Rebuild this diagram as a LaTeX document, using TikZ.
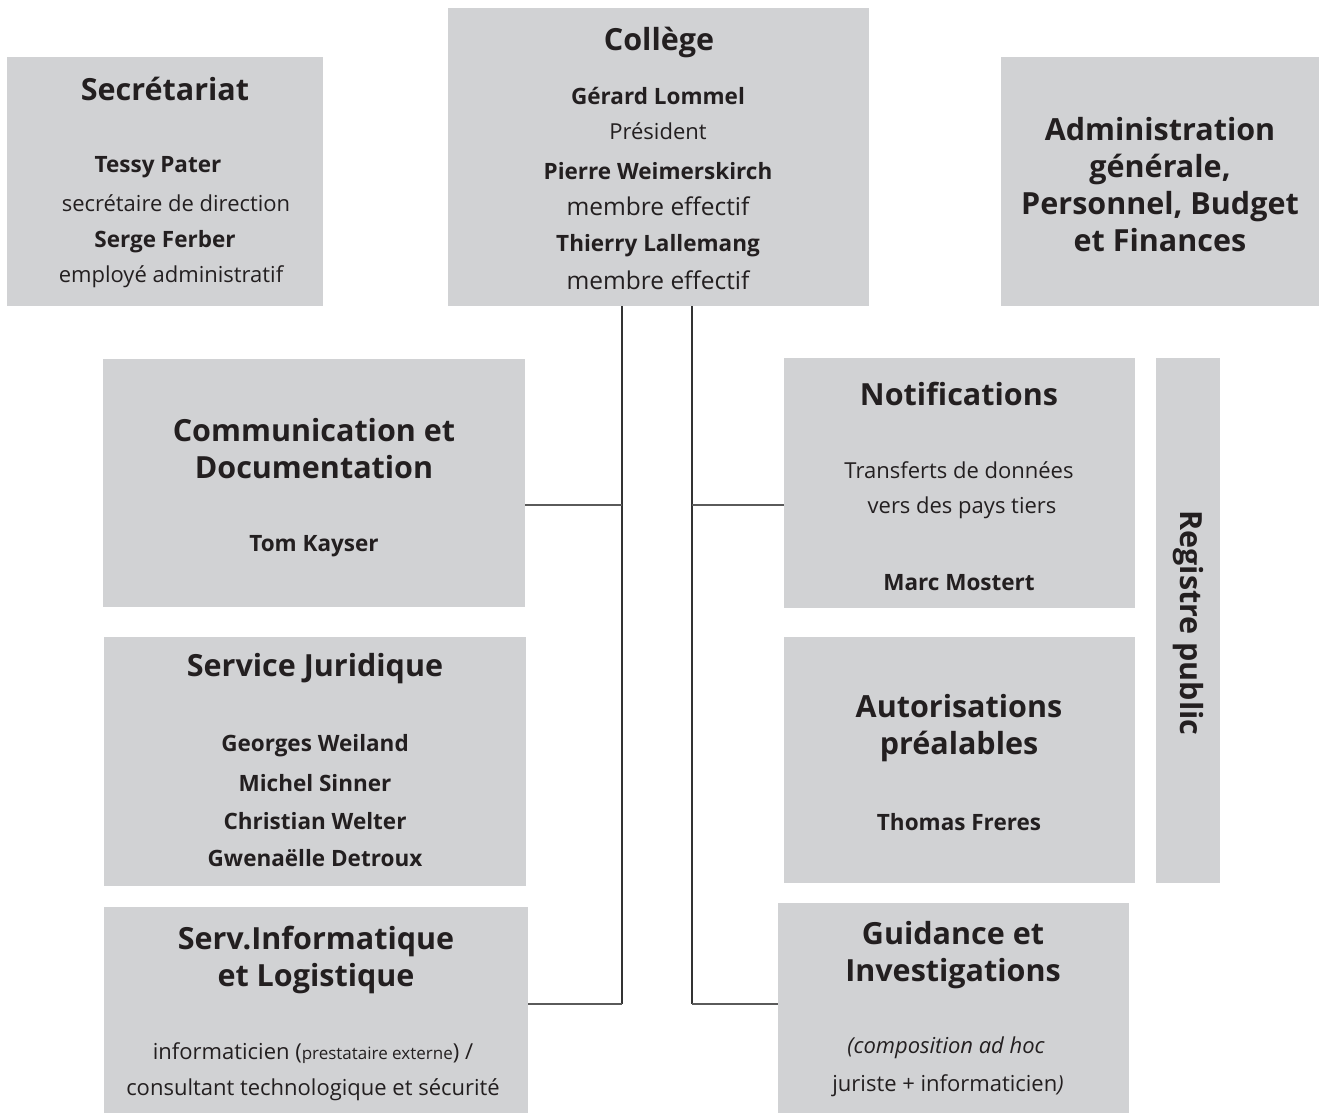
\documentclass[tikz,border=0pt]{standalone}
\usepackage{fontspec}
\setmainfont{Open Sans}
\definecolor{boxgray}{HTML}{D1D2D4}
\definecolor{ink}{HTML}{231F20}
\definecolor{linedark}{HTML}{333333}
\definecolor{linelight}{HTML}{5A5A5A}
\newcommand{\ttl}{\fontsize{30.5bp}{37bp}\selectfont\bfseries}
\newcommand{\nme}{\fontsize{22.5bp}{26bp}\selectfont\bfseries}
\newcommand{\rle}{\fontsize{22bp}{26bp}\selectfont}
\newcommand{\rlb}{\fontsize{24.5bp}{28bp}\selectfont}
\newcommand{\rls}{\fontsize{17bp}{20bp}\selectfont}
\begin{document}
\begin{tikzpicture}[x=1bp,y=-1bp,
  box/.style={fill=boxgray,draw=none,inner sep=0pt,outer sep=0pt,rectangle},
  txt/.style={text=ink,inner sep=0pt,anchor=center,align=center},
  ttlnode/.style={txt,font=\ttl},
  vline/.style={draw=linedark,line width=2bp},
  hline/.style={draw=linelight,line width=2bp}]
\useasboundingbox (0,0) rectangle (1319,1113);
% boxes
\node[box,minimum width=316bp,minimum height=249bp] (sec) at (165,181.5) {};
\node[box,minimum width=421bp,minimum height=298bp] (col) at (658.5,157) {};
\node[box,minimum width=318bp,minimum height=249bp] (adm) at (1160,181.5) {};
\node[box,minimum width=422bp,minimum height=248bp] (com) at (314,483) {};
\node[box,minimum width=422bp,minimum height=249bp] (jur) at (315,761.5) {};
\node[box,minimum width=424bp,minimum height=206bp] (inf) at (316,1010) {};
\node[box,minimum width=351bp,minimum height=250bp] (not) at (959.5,483) {};
\node[box,minimum width=351bp,minimum height=246bp] (aut) at (959.5,760) {};
\node[box,minimum width=351bp,minimum height=210bp] (gui) at (953.5,1008) {};
\node[box,minimum width=64bp,minimum height=525bp] (reg) at (1188,620.5) {};
% texts: Secretariat
\node[ttlnode] (t1) at (165,89) {Secrétariat};
\node[txt] (t2) at (158,167) {\nme Tessy Pater};
\node[txt] (t3) at (176,203) {\rle secrétaire de direction};
\node[txt] (t4) at (165,242) {\nme Serge Ferber};
\node[txt] (t5) at (171,277) {\rle employé administratif};
% College
\node[ttlnode] (c1) at (659,42) {Collège};
\node[txt] (c2) at (658,96) {\nme Gérard Lommel};
\node[txt] (c3) at (658,131) {\rle Président};
\node[txt] (c4) at (658,171) {\nme Pierre Weimerskirch};
\node[txt] (c5) at (658,206) {\rlb membre effectif};
\node[txt] (c6) at (658,246) {\nme Thierry Lallemang};
\node[txt] (c7) at (658,280) {\rlb membre effectif};
% Administration
\node[ttlnode] (a1) at (1160,185) {Administration\\générale,\\Personnel, Budget\\et Finances};
% Communication
\node[ttlnode] (m1) at (314,448.5) {Communication et\\Documentation};
\node[txt] (m2) at (314,546) {\nme Tom Kayser};
% Juridique
\node[ttlnode] (j1) at (315,669) {Service Juridique};
\node[txt] (j2) at (315,746) {\nme Georges Weiland};
\node[txt] (j3) at (315,783) {\nme Michel Sinner};
\node[txt] (j4) at (315,821) {\nme Christian Welter};
\node[txt] (j5) at (315,858) {\nme Gwenaëlle Detroux};
% Informatique
\node[ttlnode] (i1) at (316,959.5) {Serv.Informatique\\et Logistique};
\node[txt] (i2) at (313,1053) {\rle informaticien ({\rls prestataire externe}) /};
\node[txt] (i3) at (313,1090) {\rle consultant technologique et sécurité};
% Notifications
\node[ttlnode] (n1) at (959,394) {Notifications};
\node[txt] (n2) at (959,470) {\rle Transferts de données};
\node[txt] (n3) at (962,508) {\rle vers des pays tiers};
\node[txt] (n4) at (959,583) {\nme Marc Mostert};
% Autorisations
\node[ttlnode] (u1) at (959,728.5) {Autorisations\\préalables};
\node[txt] (u2) at (959,822) {\nme Thomas Freres};
% Guidance
\node[ttlnode] (g1) at (953,955.5) {Guidance et\\Investigations};
\node[txt] (g2) at (946,1048) {\rle\itshape (composition ad hoc};
\node[txt] (g3) at (948,1086) {\rle juriste + informaticien\textit{)}};
% Registre
\node[ttlnode,rotate=-90] (r1) at (1188,623) {Registre public};
% connectors
\coordinate (lt) at (622,1004);
\coordinate (lm) at (622,505);
\coordinate (rt) at (692,1004);
\coordinate (rm) at (692,505);
\draw[vline] (col.south -| lt) -- (lt);
\draw[hline] (lt) -- (inf.east |- lt);
\draw[hline] (com.east |- lm) -- (lm);
\draw[vline] (col.south -| rt) -- (rt);
\draw[hline] (rt) -- (gui.west |- rt);
\draw[hline] (rm) -- (not.west |- rm);
\end{tikzpicture}
\end{document}
